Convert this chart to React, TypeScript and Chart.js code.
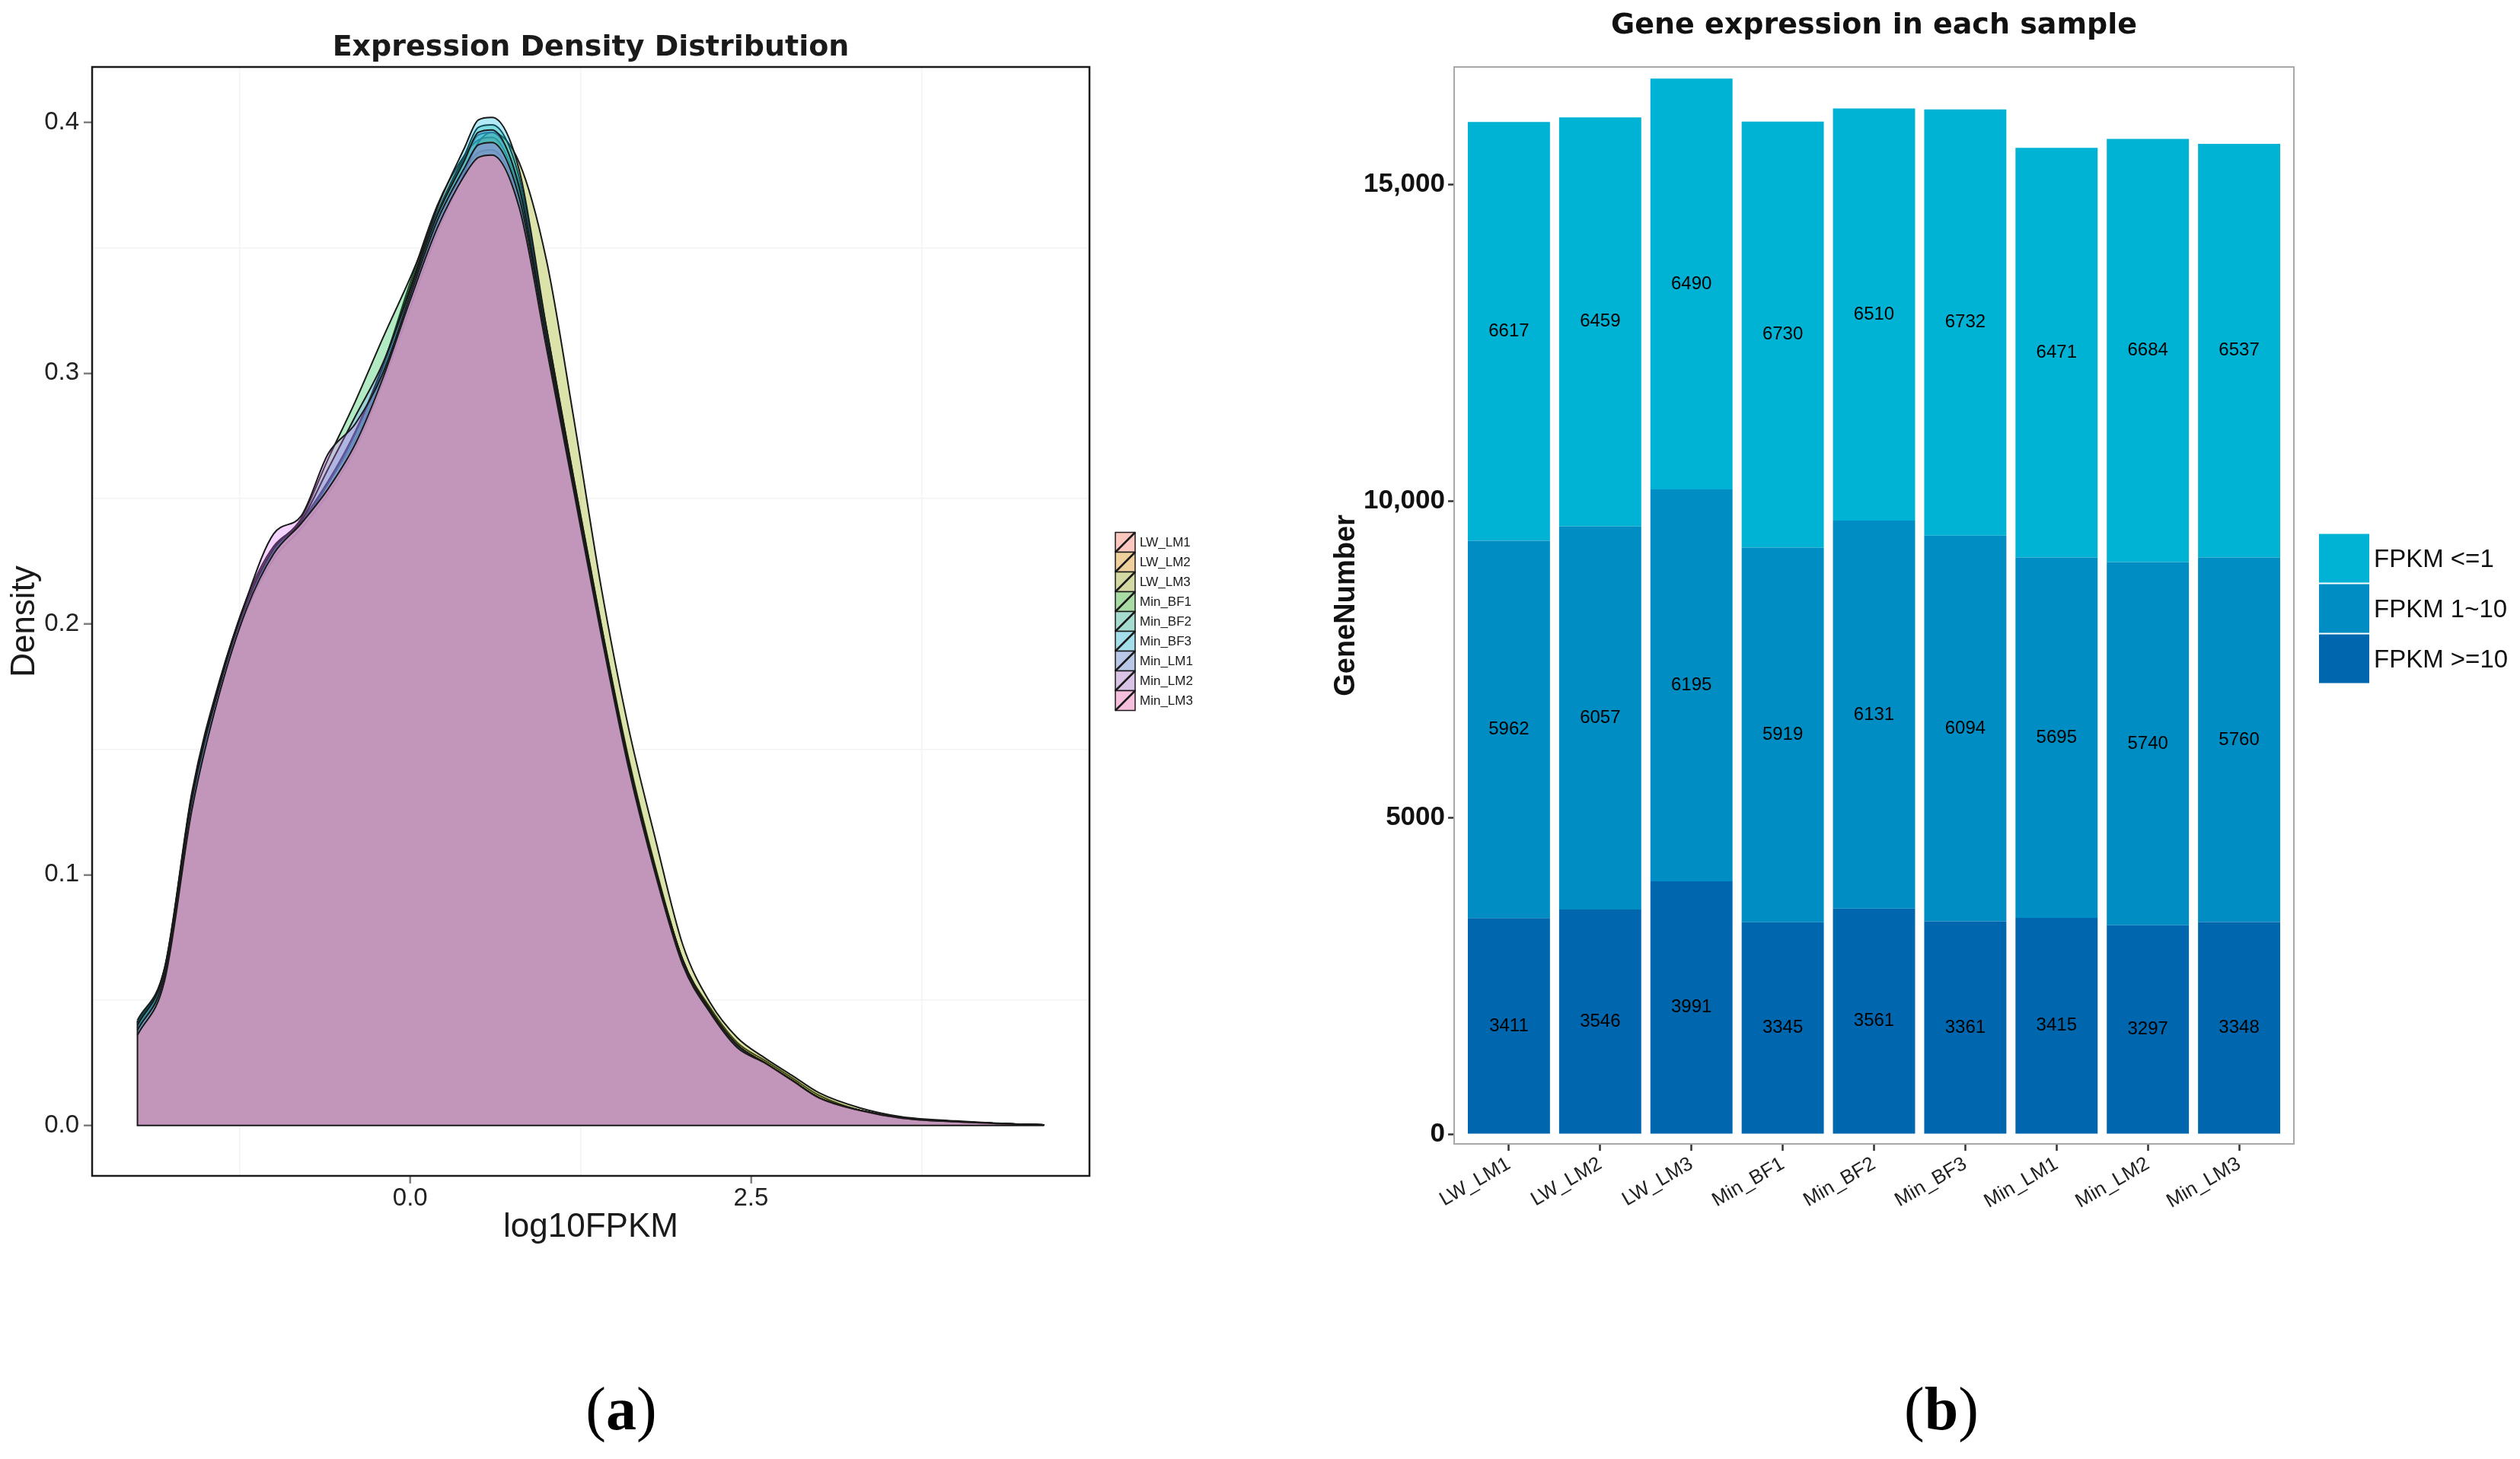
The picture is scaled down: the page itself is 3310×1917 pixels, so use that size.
import { useEffect, useRef } from "react"
import { Chart, registerables } from "chart.js"

Chart.register(...registerables)

Chart.defaults.font.family = '"Liberation Sans", Arial, sans-serif'

// ---------- (a) expression density ----------
const samples = ["LW_LM1", "LW_LM2", "LW_LM3", "Min_BF1", "Min_BF2", "Min_BF3", "Min_LM1", "Min_LM2", "Min_LM3"]

// log10FPKM grid
const log10Fpkm = [-2.0, -1.8, -1.6, -1.4, -1.2, -1.0, -0.8, -0.6, -0.4, -0.2, 0.0, 0.2, 0.4, 0.5, 0.6, 0.8, 1.0, 1.2, 1.4, 1.6, 1.8, 2.0, 2.2, 2.4, 2.6, 2.8, 3.0, 3.3, 3.6, 4.0, 4.3, 4.65]

const densLW_LM1 = [0.039, 0.061, 0.131, 0.176, 0.210, 0.231, 0.240, 0.256, 0.274, 0.300, 0.330, 0.360, 0.381, 0.388, 0.389, 0.368, 0.312, 0.255, 0.198, 0.145, 0.101, 0.065, 0.046, 0.032, 0.025, 0.018, 0.011, 0.006, 0.003, 0.0015, 0.0008, 0.0002]
const densLW_LM2 = [0.040, 0.062, 0.132, 0.176, 0.209, 0.229, 0.241, 0.257, 0.276, 0.303, 0.336, 0.367, 0.387, 0.393, 0.394, 0.372, 0.316, 0.258, 0.200, 0.147, 0.103, 0.066, 0.047, 0.033, 0.026, 0.019, 0.012, 0.006, 0.003, 0.0016, 0.0008, 0.0002]
const densLW_LM3 = [0.038, 0.060, 0.128, 0.172, 0.205, 0.226, 0.238, 0.252, 0.270, 0.296, 0.326, 0.356, 0.380, 0.392, 0.396, 0.384, 0.345, 0.282, 0.215, 0.159, 0.114, 0.072, 0.049, 0.035, 0.027, 0.020, 0.013, 0.007, 0.0035, 0.0018, 0.0009, 0.0002]
const densMin_BF1 = [0.041, 0.063, 0.133, 0.177, 0.209, 0.230, 0.242, 0.266, 0.289, 0.314, 0.338, 0.364, 0.386, 0.395, 0.396, 0.375, 0.318, 0.258, 0.200, 0.146, 0.102, 0.066, 0.046, 0.032, 0.025, 0.018, 0.011, 0.006, 0.003, 0.0015, 0.0008, 0.0002]
const densMin_BF2 = [0.041, 0.062, 0.131, 0.175, 0.208, 0.229, 0.240, 0.256, 0.276, 0.302, 0.333, 0.364, 0.387, 0.398, 0.399, 0.378, 0.317, 0.257, 0.199, 0.146, 0.102, 0.066, 0.046, 0.032, 0.025, 0.018, 0.011, 0.006, 0.003, 0.0015, 0.0008, 0.0002]
const densMin_BF3 = [0.042, 0.063, 0.132, 0.176, 0.209, 0.230, 0.241, 0.257, 0.277, 0.303, 0.334, 0.366, 0.390, 0.401, 0.402, 0.381, 0.318, 0.257, 0.199, 0.145, 0.101, 0.065, 0.046, 0.032, 0.025, 0.018, 0.011, 0.006, 0.003, 0.0015, 0.0008, 0.0002]
const densMin_LM1 = [0.040, 0.062, 0.131, 0.175, 0.208, 0.230, 0.241, 0.262, 0.283, 0.304, 0.333, 0.363, 0.385, 0.396, 0.397, 0.374, 0.314, 0.256, 0.198, 0.145, 0.101, 0.065, 0.046, 0.032, 0.025, 0.018, 0.011, 0.006, 0.003, 0.0015, 0.0008, 0.0002]
const densMin_LM2 = [0.038, 0.060, 0.130, 0.175, 0.210, 0.236, 0.243, 0.268, 0.280, 0.300, 0.331, 0.361, 0.382, 0.391, 0.392, 0.370, 0.313, 0.255, 0.197, 0.144, 0.100, 0.064, 0.045, 0.031, 0.025, 0.018, 0.011, 0.006, 0.003, 0.0015, 0.0008, 0.0002]
const densMin_LM3 = [0.036, 0.058, 0.126, 0.172, 0.206, 0.228, 0.240, 0.254, 0.272, 0.298, 0.329, 0.358, 0.379, 0.386, 0.387, 0.366, 0.310, 0.253, 0.196, 0.143, 0.100, 0.064, 0.045, 0.031, 0.025, 0.018, 0.011, 0.006, 0.003, 0.0015, 0.0008, 0.0002]

const densityBySample = [densLW_LM1, densLW_LM2, densLW_LM3, densMin_BF1, densMin_BF2, densMin_BF3, densMin_LM1, densMin_LM2, densMin_LM3]

const densityMajorTicks = [0, 0.1, 0.2, 0.3, 0.4]
const densityMinorTicks = [0.05, 0.15, 0.25, 0.35]
const logMajorTicks = [0, 2.5]
const logMinorTicks = [-1.25, 1.25, 3.75]

// ---------- (b) gene numbers ----------
const barSamples = ["LW_LM1", "LW_LM2", "LW_LM3", "Min_BF1", "Min_BF2", "Min_BF3", "Min_LM1", "Min_LM2", "Min_LM3"]
const fpkmHigh = [3411, 3546, 3991, 3345, 3561, 3361, 3415, 3297, 3348] // FPKM >=10
const fpkmMid = [5962, 6057, 6195, 5919, 6131, 6094, 5695, 5740, 5760] // FPKM 1~10
const fpkmLow = [6617, 6459, 6490, 6730, 6510, 6732, 6471, 6684, 6537] // FPKM <=1
const fpkmClasses = ["FPKM >=10", "FPKM 1~10", "FPKM <=1"]
const geneTicks = [0, 5000, 10000, 15000]

// styles
const densityFills = [
  "rgba(248,118,109,0.3)", "rgba(211,146,0,0.3)", "rgba(147,170,0,0.33)",
  "rgba(0,186,56,0.3)", "rgba(0,193,159,0.3)", "rgba(0,185,227,0.3)",
  "rgba(97,156,255,0.3)", "rgba(219,114,251,0.3)", "rgba(244,144,178,0.6)"
]
const densitySwatches = ["#FBC7BE", "#EFCF9C", "#D4D8A2", "#A9DBA4", "#A6DCCF", "#A4DEEB", "#B8C8E6", "#DAC4E5", "#F6C0DC"]
const fpkmColors = ["#0067AF", "#008DC3", "#00B3D5"]

const near = (a: number, list: number[]) => list.some((v) => Math.abs(v - a) < 1e-6)

function framePlugin(color: string, width: number) {
  return {
    id: "frame",
    afterDraw(chart: any) {
      const { ctx, chartArea: a } = chart
      ctx.save()
      ctx.strokeStyle = color
      ctx.lineWidth = width
      ctx.strokeRect(a.left, a.top, a.right - a.left, a.bottom - a.top)
      ctx.restore()
    }
  }
}

const densityLegend = {
  id: "densityLegend",
  afterDraw(chart: any) {
    const { ctx, chartArea } = chart
    const size = 26
    const left = chartArea.right + 34
    const top = (chartArea.top + chartArea.bottom) / 2 - (samples.length * size) / 2
    ctx.save()
    ctx.font = '17px "Liberation Sans"'
    ctx.textBaseline = "middle"
    ctx.textAlign = "left"
    samples.forEach((name, i) => {
      const y = top + i * size
      ctx.fillStyle = densitySwatches[i]
      ctx.fillRect(left, y, size, size)
      ctx.strokeStyle = "#1a1a1a"
      ctx.lineWidth = 1.5
      ctx.strokeRect(left, y, size, size)
      ctx.lineWidth = 2.5
      ctx.beginPath()
      ctx.moveTo(left, y + size)
      ctx.lineTo(left + size, y)
      ctx.stroke()
      ctx.fillStyle = "#1a1a1a"
      ctx.fillText(name, left + size + 6, y + size / 2 + 1)
    })
    ctx.restore()
  }
}

const barLegend = {
  id: "barLegend",
  afterDraw(chart: any) {
    const { ctx, chartArea } = chart
    const w = 66
    const h = 64
    const gap = 2
    const left = chartArea.right + 33
    const top = (chartArea.top + chartArea.bottom) / 2 - (3 * h + 2 * gap) / 2 + 4
    ctx.save()
    ctx.font = '33px "Liberation Sans"'
    ctx.textBaseline = "middle"
    ctx.textAlign = "left"
    // legend lists the top segment first
    const order = [2, 1, 0]
    order.forEach((k, i) => {
      const y = top + i * (h + gap)
      ctx.fillStyle = fpkmColors[k]
      ctx.fillRect(left, y, w, h)
      ctx.fillStyle = "#111"
      ctx.fillText(fpkmClasses[k], left + w + 6, y + h / 2 + 2)
    })
    ctx.restore()
  }
}

const barValueLabels = {
  id: "barValueLabels",
  afterDatasetsDraw(chart: any) {
    const { ctx } = chart
    ctx.save()
    ctx.font = '24px "Liberation Sans"'
    ctx.fillStyle = "#000"
    ctx.textAlign = "center"
    ctx.textBaseline = "middle"
    chart.data.datasets.forEach((ds: any, i: number) => {
      chart.getDatasetMeta(i).data.forEach((bar: any, j: number) => {
        const { x, y, base } = bar.getProps(["x", "y", "base"], true)
        ctx.fillText(String(ds.data[j].y), x, (y + base) / 2)
      })
    })
    ctx.restore()
  }
}

function DensityChart() {
  const chartRef = useRef<HTMLCanvasElement>(null)
  const chartInstance = useRef<Chart | null>(null)

  useEffect(() => {
    if (!chartRef.current) return
    if (chartInstance.current) chartInstance.current.destroy()

    const xMin = Math.min(...log10Fpkm)
    const xMax = Math.max(...log10Fpkm)
    const xPad = (xMax - xMin) * 0.05
    const yMax = Math.max(...densityBySample.flat())
    const startMax = Math.max(...densityBySample.map((d) => d[0]))

    const datasets: any[] = samples.map((name, i) => ({
      label: name,
      data: log10Fpkm.map((x, k) => ({ x, y: densityBySample[i][k] })),
      backgroundColor: densityFills[i],
      borderColor: "#1a1a1a",
      borderWidth: 2,
      fill: "origin",
      cubicInterpolationMode: "monotone",
      pointRadius: 0,
      order: samples.length - i + 1
    }))
    // closing outline: left edge down to the baseline, then along it
    datasets.push({
      label: "",
      data: [{ x: xMin, y: startMax }, { x: xMin, y: 0 }, { x: xMax, y: 0 }],
      borderColor: "#1a1a1a",
      borderWidth: 2,
      fill: false,
      tension: 0,
      pointRadius: 0,
      order: 0
    })

    chartInstance.current = new Chart(chartRef.current, {
      type: "line",
      data: { datasets },
      options: {
        responsive: false,
        animation: false,
        events: [],
        layout: { padding: { left: 0, right: 219, top: 0, bottom: 0 } },
        plugins: {
          legend: { display: false },
          tooltip: { enabled: false },
          title: {
            display: true,
            text: "Expression Density Distribution",
            fullSize: false,
            color: "#1a1a1a",
            font: { family: '"DejaVu Sans"', size: 38, weight: "bold" },
            padding: { top: 40, bottom: 2.4 }
          }
        },
        scales: {
          x: {
            type: "linear",
            min: xMin - xPad,
            max: xMax + xPad,
            afterBuildTicks: (scale: any) => {
              scale.ticks = [...logMinorTicks, ...logMajorTicks].sort((a, b) => a - b).map((value) => ({ value }))
            },
            afterFit: (scale: any) => { scale.height = 155 },
            border: { display: false },
            grid: {
              color: (c: any) => (near(c.tick.value, logMinorTicks) ? "#F3F3F3" : "transparent"),
              tickColor: (c: any) => (near(c.tick.value, logMajorTicks) ? "#808080" : "transparent"),
              lineWidth: 1.5,
              tickWidth: 2.5,
              tickLength: 10
            },
            ticks: {
              color: "#222",
              font: { size: 33 },
              padding: 0,
              maxRotation: 0,
              autoSkip: false,
              callback: (v: any) => (near(Number(v), logMajorTicks) ? Number(v).toFixed(1) : "")
            },
            title: {
              display: true,
              text: "log10FPKM",
              color: "#1a1a1a",
              font: { size: 44 },
              padding: { top: 0, bottom: 61 }
            }
          },
          y: {
            type: "linear",
            min: -yMax * 0.05,
            max: yMax * 1.05,
            afterBuildTicks: (scale: any) => {
              scale.ticks = [...densityMinorTicks, ...densityMajorTicks].sort((a, b) => a - b).map((value) => ({ value }))
            },
            afterFit: (scale: any) => { scale.width = 121 },
            border: { display: false },
            grid: {
              color: (c: any) => (near(c.tick.value, densityMinorTicks) ? "#F3F3F3" : "transparent"),
              tickColor: (c: any) => (near(c.tick.value, densityMajorTicks) ? "#808080" : "transparent"),
              lineWidth: 1.5,
              tickWidth: 2.5,
              tickLength: 11
            },
            ticks: {
              color: "#222",
              font: { size: 33 },
              padding: 6,
              autoSkip: false,
              callback: (v: any) => (near(Number(v), densityMajorTicks) ? Number(v).toFixed(1) : "")
            },
            title: {
              display: true,
              text: "Density",
              color: "#1a1a1a",
              font: { size: 44 },
              padding: { top: 6, bottom: 0 }
            }
          }
        }
      } as any,
      plugins: [framePlugin("#1a1a1a", 2.5), densityLegend]
    })
    return () => { if (chartInstance.current) chartInstance.current.destroy() }
  }, [])

  return <canvas ref={chartRef} width={1650} height={1700} style={{ width: 1650, height: 1700, display: "block" }} />
}

function GeneBarChart() {
  const chartRef = useRef<HTMLCanvasElement>(null)
  const chartInstance = useRef<Chart | null>(null)

  useEffect(() => {
    if (!chartRef.current) return
    if (chartInstance.current) chartInstance.current.destroy()

    const series = [fpkmHigh, fpkmMid, fpkmLow]
    const datasets = series.map((values, k) => ({
      label: fpkmClasses[k],
      data: values.map((y, i) => ({ x: i + 1, y })),
      backgroundColor: fpkmColors[k],
      borderWidth: 0,
      barPercentage: 0.9,
      categoryPercentage: 1.0
    }))

    chartInstance.current = new Chart(chartRef.current, {
      type: "bar",
      data: { datasets },
      options: {
        responsive: false,
        animation: false,
        events: [],
        layout: { padding: { left: 0, right: 297, top: 0, bottom: 0 } },
        plugins: {
          legend: { display: false },
          tooltip: { enabled: false },
          title: {
            display: true,
            text: "Gene expression in each sample",
            fullSize: false,
            color: "#111",
            font: { family: '"DejaVu Sans"', size: 38, weight: "bold" },
            padding: { top: 11, bottom: 31.4 }
          }
        },
        scales: {
          x: {
            type: "linear",
            stacked: true,
            min: 0.4,
            max: barSamples.length + 0.6,
            offset: false,
            afterBuildTicks: (scale: any) => {
              scale.ticks = barSamples.map((_, i) => ({ value: i + 1 }))
            },
            afterFit: (scale: any) => { scale.height = 217 },
            border: { display: false },
            grid: { offset: false, color: "transparent", tickColor: "#333", tickWidth: 2.5, tickLength: 9 },
            ticks: {
              color: "#222",
              font: { size: 26 },
              padding: 2,
              autoSkip: false,
              minRotation: 30,
              maxRotation: 30,
              callback: (v: any) => barSamples[Math.round(Number(v)) - 1] ?? ""
            }
          },
          y: {
            type: "linear",
            stacked: true,
            min: -156,
            max: 16858,
            afterBuildTicks: (scale: any) => {
              scale.ticks = geneTicks.map((value) => ({ value }))
            },
            afterFit: (scale: any) => { scale.width = 210 },
            border: { display: false },
            grid: { color: "transparent", tickColor: "#333", tickWidth: 2.5, tickLength: 8 },
            ticks: {
              color: "#111",
              font: { size: 35, weight: "bold" },
              padding: 4,
              callback: (v: any) => (Number(v) >= 10000 ? Number(v).toLocaleString("en-US") : String(v))
            },
            title: {
              display: true,
              text: "GeneNumber",
              color: "#111",
              font: { size: 38, weight: "bold" },
              padding: { top: 46, bottom: 0 }
            }
          }
        }
      } as any,
      plugins: [framePlugin("#A8A8A8", 2), barValueLabels, barLegend]
    })
    return () => { if (chartInstance.current) chartInstance.current.destroy() }
  }, [])

  return <canvas ref={chartRef} width={1610} height={1720} style={{ width: 1610, height: 1720, display: "block" }} />
}

const panelLabel: any = {
  position: "absolute",
  fontFamily: '"Liberation Serif", "Times New Roman", serif',
  fontSize: 80,
  lineHeight: 1,
  color: "#000",
  transform: "translate(-50%, -50%)",
  whiteSpace: "nowrap"
}

export default function App() {
  return (
    <div style={{ position: "absolute", left: 0, top: 0, width: 3310, height: 1917, background: "#fff", overflow: "hidden" }}>
      <div style={{ position: "absolute", left: 0, top: 0 }}>
        <DensityChart />
      </div>
      <div style={{ position: "absolute", left: 1700, top: 0 }}>
        <GeneBarChart />
      </div>
      <div style={{ ...panelLabel, left: 816, top: 1851 }}>(<b>a</b>)</div>
      <div style={{ ...panelLabel, left: 2550, top: 1851 }}>(<b>b</b>)</div>
    </div>
  )
}
